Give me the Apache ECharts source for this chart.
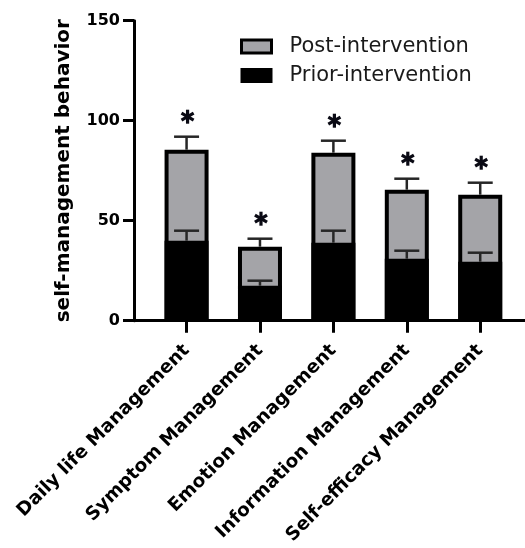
<!DOCTYPE html>
<html>
<head>
<meta charset="utf-8">
<script src="https://cdn.jsdelivr.net/npm/echarts@6/dist/echarts.min.js"></script>
<style>
html,body{margin:0;padding:0;background:#fff;}
#chart{width:525px;height:548px;}
</style>
</head>
<body>
<div id="chart"></div>
<script>
// ---- data ----
const categories = ['Daily life Management', 'Symptom Management', 'Emotion Management', 'Information Management', 'Self-efficacy Management'];
const priorMean = [40, 17.5, 39, 31, 29.5];
const priorSD   = [5, 2.5, 6, 4, 4.5];
const postMean  = [85.5, 37, 84, 65.5, 63];
const postSD    = [6.5, 4, 6, 5.5, 6];
const yTickValues = [0, 50, 100, 150];
const seriesNames = ['Post-intervention', 'Prior-intervention'];

const catIdx = categories.map((c, i) => i);
const FONT = 'DejaVu Sans';
const ERR_COLOR = '#262626';

function errData(mean, sd) {
  return mean.map((m, i) => [i, m, m + sd[i]]);
}

function renderErr(params, api) {
  const x = api.value(0);
  const lo = api.coord([x, api.value(1)]);
  const hi = api.coord([x, api.value(2)]);
  const half = 12.5;
  const st = { stroke: ERR_COLOR, lineWidth: 2.5 };
  return {
    type: 'group',
    children: [
      { type: 'line', shape: { x1: lo[0], y1: lo[1], x2: hi[0], y2: hi[1] }, style: st },
      { type: 'line', shape: { x1: hi[0] - half, y1: hi[1], x2: hi[0] + half, y2: hi[1] }, style: st }
    ]
  };
}

function renderStar(params, api) {
  const x = api.value(0);
  const p = api.coord([x, api.value(2)]);
  const cx = p[0] + 1, cy = p[1] - 20;
  const r = 7, dx = r * Math.cos(Math.PI / 6), dy = r * Math.sin(Math.PI / 6);
  const st = { stroke: '#0a0a14', lineWidth: 3.2 };
  return {
    type: 'group',
    children: [
      { type: 'line', shape: { x1: cx, y1: cy - r, x2: cx, y2: cy + r }, style: st },
      { type: 'line', shape: { x1: cx - dx, y1: cy - dy, x2: cx + dx, y2: cy + dy }, style: st },
      { type: 'line', shape: { x1: cx - dx, y1: cy + dy, x2: cx + dx, y2: cy - dy }, style: st }
    ]
  };
}

const chart = echarts.init(document.getElementById('chart'), null, { renderer: 'canvas' });
chart.setOption({
  animation: false,
  backgroundColor: '#fff',
  grid: { left: 134, right: 0, top: 20.7, bottom: 227.3, containLabel: false },
  legend: {
    orient: 'vertical',
    left: 240,
    top: 36,
    padding: 0,
    icon: 'rect',
    itemWidth: 30,
    itemHeight: 13,
    itemGap: 8,
    data: [
      { name: seriesNames[0], itemStyle: { borderWidth: 3 } },
      { name: seriesNames[1] }
    ],
    textStyle: { fontFamily: FONT, fontSize: 21, color: '#1a1a1a', padding: [0, 0, 0, 13] }
  },
  xAxis: {
    type: 'value',
    min: -0.716,
    max: 4.61,
    splitLine: { show: false },
    axisLine: { show: true, onZero: false, lineStyle: { color: '#000', width: 3 } },
    axisTick: { show: true, customValues: catIdx, length: 12, lineStyle: { color: '#000', width: 3 } },
    axisLabel: {
      customValues: catIdx,
      formatter: v => categories[Math.round(v)],
      rotate: 45,
      margin: 27,
      fontFamily: FONT,
      fontWeight: 'bold',
      fontSize: 18.5,
      color: '#000'
    }
  },
  yAxis: {
    type: 'value',
    min: 0,
    max: 150,
    interval: 50,
    name: 'self-management behavior',
    nameLocation: 'middle',
    nameGap: 60,
    nameTextStyle: { fontFamily: FONT, fontWeight: 'bold', fontSize: 20, color: '#000' },
    splitLine: { show: false },
    axisLine: { show: true, onZero: false, lineStyle: { color: '#000', width: 3 } },
    axisTick: { show: true, length: 11, lineStyle: { color: '#000', width: 3 } },
    axisLabel: {
      customValues: yTickValues,
      margin: 14,
      fontFamily: FONT,
      fontWeight: 'bold',
      fontSize: 16,
      color: '#000'
    }
  },
  series: [
    {
      name: seriesNames[0],
      type: 'bar',
      data: postMean.map((v, i) => [i, v]),
      barWidth: 44,
      barGap: '-100%',
      itemStyle: { color: '#a4a4a8', borderColor: '#000', borderWidth: 4 }
    },
    {
      name: seriesNames[1],
      type: 'bar',
      data: priorMean.map((v, i) => [i, v]),
      barWidth: 44,
      barGap: '-100%',
      itemStyle: { color: '#000', borderColor: '#000', borderWidth: 4 }
    },
    {
      name: 'post-err',
      type: 'custom',
      renderItem: renderErr,
      data: errData(postMean, postSD),
      encode: { x: 0, y: [1, 2] },
      z: 5
    },
    {
      name: 'prior-err',
      type: 'custom',
      renderItem: renderErr,
      data: errData(priorMean, priorSD),
      encode: { x: 0, y: [1, 2] },
      z: 5
    },
    {
      name: 'significance',
      type: 'custom',
      renderItem: renderStar,
      data: errData(postMean, postSD),
      encode: { x: 0, y: [1, 2] },
      z: 5
    }
  ]
});
</script>
</body>
</html>
